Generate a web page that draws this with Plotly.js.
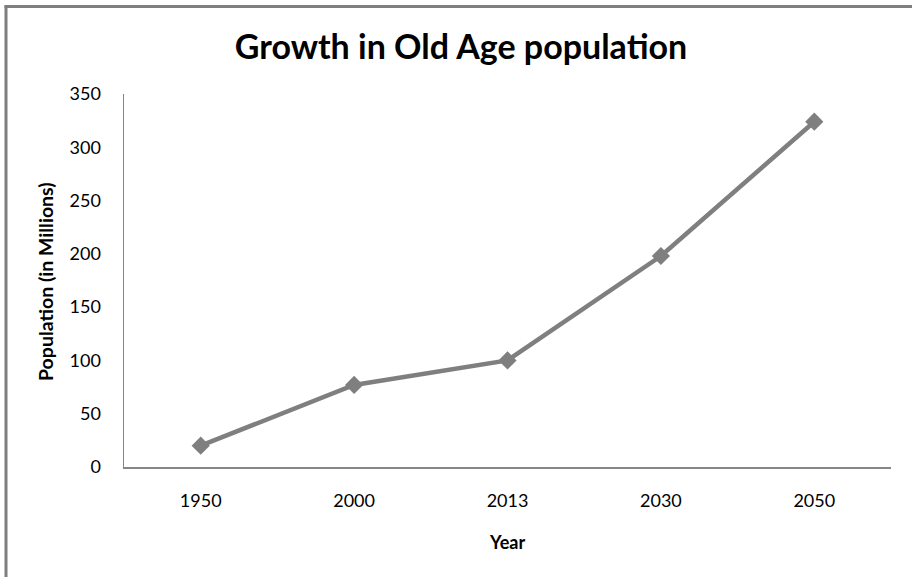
<!DOCTYPE html>
<html>
<head>
<meta charset="utf-8">
<script src="https://cdn.plot.ly/plotly-3.0.1.min.js"></script>
<style>
  html, body { margin: 0; padding: 0; background: #ffffff; }
  #chart { width: 912px; height: 577px; }
</style>
</head>
<body>
<div id="chart"></div>
<script>
// Old-age population (millions) by year
const years = ['1950', '2000', '2013', '2030', '2050'];
const population = [20, 77, 100, 198, 324];
const yTicks = [0, 50, 100, 150, 200, 250, 300, 350];

const chartTitle = 'Growth in Old Age population';
const xTitle = 'Year';
const yTitle = 'Population (in Millions)';

const FONT = 'Lato, "Open Sans", sans-serif';
const GREY = '#7f7f7f';

// plot-area geometry in pixels, used to place the frame and axis titles
const W = 912, H = 577;
const M = { l: 124, r: 21, t: 94, b: 110 };
const PW = W - M.l - M.r, PH = H - M.t - M.b;
const px = x => (x - M.l) / PW;
const py = y => (H - M.b - y) / PH;

const trace = {
  type: 'scatter',
  mode: 'lines+markers',
  x: years,
  y: population,
  line: { color: GREY, width: 4.5 },
  marker: { symbol: 'diamond', size: 14, color: GREY },
  hoverinfo: 'x+y'
};

const layout = {
  width: W,
  height: H,
  margin: M,
  paper_bgcolor: '#ffffff',
  plot_bgcolor: '#ffffff',
  showlegend: false,
  font: { family: FONT, color: '#000000' },
  title: {
    text: '<b>' + chartTitle + '</b>',
    font: { family: FONT, size: 34, color: '#000000' },
    xref: 'container', yref: 'container',
    x: 461 / W, xanchor: 'center',
    y: 1 - 47 / H, yanchor: 'middle'
  },
  xaxis: {
    type: 'category',
    range: [-0.5, years.length - 0.5],
    showgrid: false,
    zeroline: false,
    showline: true,
    linecolor: '#868686',
    linewidth: 1.5,
    ticks: '',
    ticklabelstandoff: 17,
    tickfont: { family: FONT, size: 18, color: '#000000' },
    fixedrange: true
  },
  yaxis: {
    range: [0, 350],
    tickvals: yTicks,
    showgrid: false,
    zeroline: false,
    showline: true,
    linecolor: '#868686',
    linewidth: 1.5,
    ticks: '',
    ticklabelstandoff: 18,
    tickfont: { family: FONT, size: 18, color: '#000000' },
    fixedrange: true
  },
  annotations: [
    { text: '<b>' + xTitle + '</b>', xref: 'paper', yref: 'paper',
      x: px(507), y: py(542), xanchor: 'center', yanchor: 'middle',
      showarrow: false, font: { family: FONT, size: 18, color: '#000000' } },
    { text: '<b>' + yTitle + '</b>', xref: 'paper', yref: 'paper',
      x: px(45), y: py(282), xanchor: 'center', yanchor: 'middle',
      textangle: -90, showarrow: false,
      font: { family: FONT, size: 19.5, color: '#000000' } }
  ],
  shapes: [
    // chart frame: left and top edges
    { type: 'line', xref: 'paper', yref: 'paper',
      x0: px(6), x1: px(6), y0: py(5.5), y1: py(H + 10),
      line: { color: GREY, width: 3 } },
    { type: 'line', xref: 'paper', yref: 'paper',
      x0: px(4.5), x1: px(W + 10), y0: py(6.5), y1: py(6.5),
      line: { color: GREY, width: 3 } }
  ]
};

Plotly.newPlot('chart', [trace], layout, { displayModeBar: false, staticPlot: true });
</script>
</body>
</html>
